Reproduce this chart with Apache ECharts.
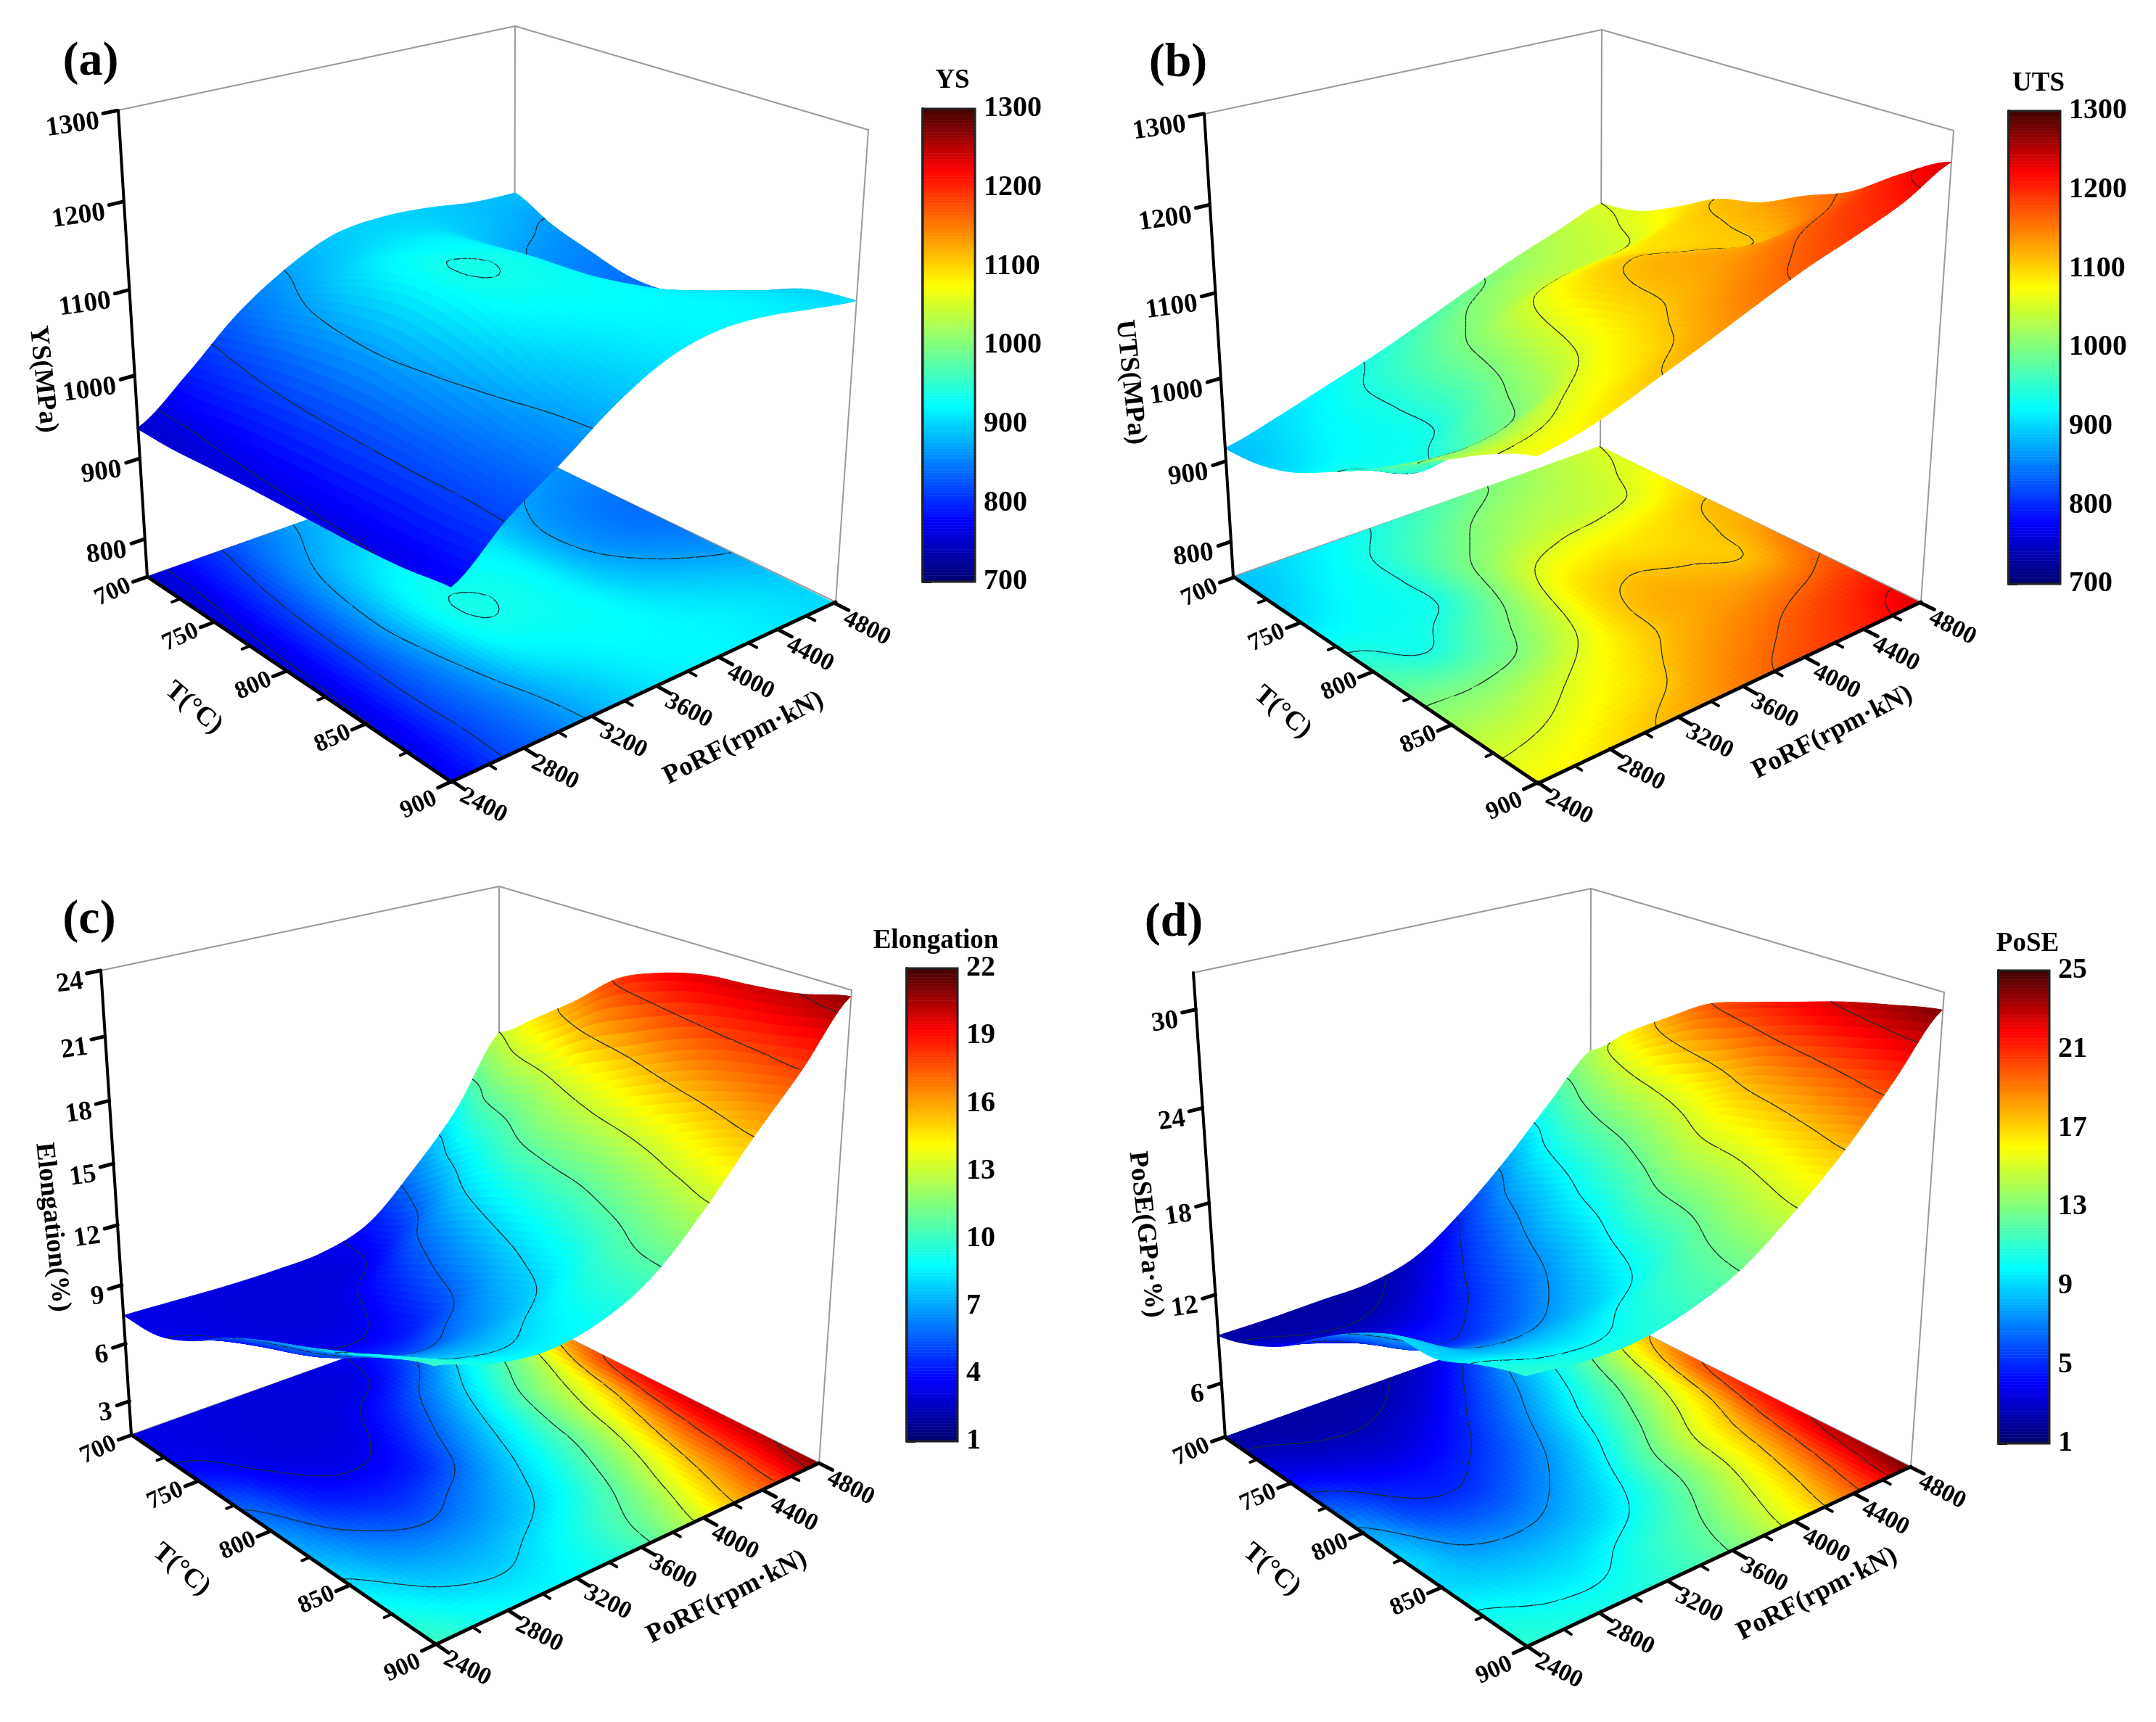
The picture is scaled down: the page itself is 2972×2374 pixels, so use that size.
<!DOCTYPE html>
<html>
<head>
<meta charset="utf-8">
<style>html,body{margin:0;background:#fff}#chart{width:2972px;height:2374px}</style>
<script src="https://cdn.jsdelivr.net/npm/echarts@6/dist/echarts.min.js"></script>
</head>
<body>
<div id="chart"></div>
<script>
// sampled grid, rows = T, columns = PoRF
const gridT = [700, 725, 750, 775, 800, 825, 850, 875, 900];
const gridP = [2400, 2700, 3000, 3300, 3600, 3900, 4200, 4500, 4800];

// values, in colour bar units
const ysValues = [
  [752, 792, 838, 871, 893, 898, 895, 888, 886],
  [752, 798, 850, 884, 902, 903, 893, 880, 866],
  [755, 805, 862, 905, 915, 910, 882, 862, 853],
  [758, 810, 870, 922, 925, 915, 873, 852, 842],
  [760, 813, 874, 930, 934, 920, 876, 852, 843],
  [762, 815, 868, 926, 932, 922, 890, 868, 856],
  [764, 816, 860, 910, 925, 925, 908, 892, 878],
  [768, 815, 853, 892, 916, 922, 918, 908, 897],
  [775, 817, 850, 885, 910, 920, 918, 910, 903]
];
const utsValues = [
  [888, 905, 925, 945, 968, 992, 1015, 1035, 1055],
  [893, 915, 937, 965, 995, 1018, 1030, 1045, 1062],
  [908, 925, 938, 985, 1018, 1038, 1045, 1057, 1085],
  [933, 930, 940, 998, 1055, 1075, 1082, 1095, 1112],
  [960, 938, 975, 1018, 1085, 1105, 1100, 1105, 1125],
  [990, 985, 1000, 1045, 1100, 1122, 1118, 1112, 1150],
  [1020, 1025, 1048, 1078, 1108, 1130, 1140, 1152, 1172],
  [1050, 1058, 1078, 1100, 1130, 1150, 1170, 1190, 1208],
  [1072, 1084, 1105, 1127, 1150, 1172, 1190, 1210, 1238]
];
const elongationValues = [
  [3.3, 3.2, 3.1, 3.1, 3.25, 4.1, 6.4, 9.2, 13.0],
  [3.35, 3.15, 3.0, 3.05, 3.3, 5.0, 8.0, 11.3, 14.6],
  [4.2, 3.3, 3.05, 3.25, 4.6, 6.9, 9.5, 12.3, 16.3],
  [5.5, 3.9, 3.3, 3.8, 5.7, 8.1, 10.9, 13.6, 18.2],
  [6.5, 4.7, 4.1, 4.6, 6.7, 9.0, 11.7, 14.7, 19.2],
  [7.3, 5.9, 5.2, 6.2, 7.7, 9.7, 12.3, 15.9, 19.8],
  [8.2, 7.0, 6.7, 7.3, 8.6, 10.6, 13.3, 16.9, 20.0],
  [9.2, 8.1, 7.8, 8.6, 9.9, 11.6, 14.5, 17.5, 20.3],
  [10.0, 9.1, 8.7, 9.1, 10.3, 12.6, 15.4, 18.0, 20.9]
];
const poseValues = [
  [2.1, 2.1, 2.2, 2.3, 3.1, 5.2, 7.9, 11.0, 14.0],
  [2.9, 2.45, 2.4, 2.9, 4.5, 6.9, 9.7, 12.8, 16.2],
  [4.2, 3.4, 3.2, 4.1, 5.9, 8.2, 11.0, 14.3, 18.1],
  [6.1, 4.6, 4.3, 5.2, 7.1, 9.6, 12.1, 15.4, 19.9],
  [7.8, 5.6, 5.2, 6.4, 8.2, 10.7, 13.5, 16.6, 20.9],
  [9.0, 7.1, 6.7, 7.7, 9.5, 12.2, 15.0, 18.0, 21.8],
  [9.1, 8.4, 8.3, 9.0, 10.6, 12.9, 15.6, 18.9, 22.7],
  [10.2, 9.6, 9.6, 10.7, 12.0, 14.0, 16.5, 19.8, 23.4],
  [11.0, 10.6, 10.6, 11.3, 12.6, 14.8, 17.4, 20.6, 24.0]
];

const ysLevels = [765, 815, 870, 935];
const utsLevels = [940, 1000, 1055, 1110, 1165, 1220];
const elongationLevels = [3.5, 5.7, 8, 10.7, 13, 15.5, 18, 20.3];
const poseLevels = [2.5, 5, 7.5, 10, 12.5, 15, 17.5, 20, 22.5];

const tempTicks = [700, 750, 800, 850, 900];
const tempMinor = [725, 775, 825, 875];
const porfTicks = [2400, 2800, 3200, 3600, 4000, 4400, 4800];
const porfMinor = [2600, 3000, 3400, 3800, 4200, 4600];

const ysHeightTicks = [800, 900, 1000, 1100, 1200, 1300];
const elongationHeightTicks = [3, 6, 9, 12, 15, 18, 21, 24];
const poseHeightTicks = [6, 12, 18, 24, 30];

const ysBarTicks = [700, 800, 900, 1000, 1100, 1200, 1300];
const elongationBarTicks = [1, 4, 7, 10, 13, 16, 19, 22];
const poseBarTicks = [1, 5, 9, 13, 17, 21, 25];

const SERIF = '"Liberation Serif", "Times New Roman", serif';
const SUB = 8;

// corners of each box on the page, the projection is fitted to them
const panels = [
  {
    letter: '(a)', letterAt: [120, 81], values: ysValues, levels: ysLevels, heightTicks: ysHeightTicks,
    zRange: [752, 1300], heightBase: 62.3, heightScale: 1.163,
    barRange: [700, 1300], barTicks: ysBarTicks, barName: 'YS', barNameAt: [1308, 106], barBox: [1272, 150, 72, 652],
    zTitle: 'YS(MPa)', zTitleAt: [59, 523], tTitleAt: [267, 976], pTitleAt: [1025, 1018],
    L0: [203, 795], B0: [622, 1078], R0: [1152, 830], K0: [709, 617],
    L1: [163, 152], K1: [710, 36], R1: [1197, 179], tick: [1000, 182, 518]
  },
  {
    letter: '(b)', letterAt: [1619, 83], values: utsValues, levels: utsLevels, heightTicks: ysHeightTicks,
    zRange: [754, 1300], heightBase: 28, heightScale: 1,
    barRange: [700, 1300], barTicks: ysBarTicks, barName: 'UTS', barNameAt: [2805, 110], barBox: [2769, 153, 71, 652],
    zTitle: 'UTS(MPa)', zTitleAt: [1558, 527], tTitleAt: [1768, 982], pTitleAt: [2526, 1010],
    L0: [1700, 795], B0: [2120, 1080], R0: [2648, 830], K0: [2206, 617],
    L1: [1660, 157], K1: [2208, 41], R1: [2693, 180], tick: [1000, 1681, 522]
  },
  {
    letter: '(c)', letterAt: [118, 1264], values: elongationValues, levels: elongationLevels, heightTicks: elongationHeightTicks,
    zRange: [1.2, 24], heightBase: 4.4, heightScale: 0.924,
    barRange: [1, 22], barTicks: elongationBarTicks, barName: 'Elongation', barNameAt: [1285, 1292], barBox: [1250, 1335, 70, 652],
    zTitle: 'Elongation(%)', zTitleAt: [72, 1692], tTitleAt: [250, 2164], pTitleAt: [1002, 2202],
    L0: [181, 1978], B0: [601, 2267], R0: [1129, 2017], K0: [688, 1797],
    L1: [139, 1338], K1: [688, 1222], R1: [1174, 1365], tick: [15, 157, 1604]
  },
  {
    letter: '(d)', letterAt: [1613, 1268], values: poseValues, levels: poseLevels, heightTicks: poseHeightTicks,
    zRange: [2.25, 32.2], heightBase: 7.15, heightScale: 1,
    barRange: [1, 25], barTicks: poseBarTicks, barName: 'PoSE', barNameAt: [2790, 1296], barBox: [2755, 1338, 70, 652],
    zTitle: 'PoSE(GPa·%)', zTitleAt: [1579, 1702], tTitleAt: [1753, 2164], pTitleAt: [2505, 2198],
    L0: [1689, 1982], B0: [2105, 2270], R0: [2634, 2022], K0: [2192, 1801],
    L1: [1645, 1341], K1: [2193, 1225], R1: [2680, 1368], tick: [18, 1667, 1657]
  }
];

// jet like map of the colour bars
const colorStops = [
  [0, [0, 0, 110]], [0.13, [0, 0, 255]], [0.373, [0, 255, 255]], [0.5, [127, 255, 127]],
  [0.627, [255, 255, 0]], [0.87, [255, 0, 0]], [1, [64, 0, 0]]
];
function jet(f) {
  f = Math.max(0, Math.min(1, f));
  for (let i = 1; i < colorStops.length; i++) {
    if (f <= colorStops[i][0]) {
      const a = colorStops[i - 1], b = colorStops[i];
      const t = (f - a[0]) / (b[0] - a[0]);
      const c = a[1].map((v, k) => Math.round(v + (b[1][k] - v) * t));
      return 'rgb(' + c.join(',') + ')';
    }
  }
  return 'rgb(64,0,0)';
}

// least squares fit of a camera: page = (a.q) / (c.q + 1), q = [u, v, w, 1]
function solve(A, b) {
  const n = b.length;
  for (let i = 0; i < n; i++) {
    let p = i;
    for (let r = i + 1; r < n; r++) if (Math.abs(A[r][i]) > Math.abs(A[p][i])) p = r;
    [A[i], A[p]] = [A[p], A[i]];
    [b[i], b[p]] = [b[p], b[i]];
    for (let r = i + 1; r < n; r++) {
      const m = A[r][i] / A[i][i];
      for (let c = i; c < n; c++) A[r][c] -= m * A[i][c];
      b[r] -= m * b[i];
    }
  }
  const x = new Array(n).fill(0);
  for (let i = n - 1; i >= 0; i--) {
    let s = b[i];
    for (let c = i + 1; c < n; c++) s -= A[i][c] * x[c];
    x[i] = s / A[i][i];
  }
  return x;
}
function fitCamera(p) {
  const wTick = (p.tick[0] - p.zRange[0]) / (p.zRange[1] - p.zRange[0]);
  const pts = [
    [0, 0, 0, p.L0], [1, 0, 0, p.B0], [1, 1, 0, p.R0], [0, 1, 0, p.K0],
    [0, 0, 1, p.L1], [0, 1, 1, p.K1], [1, 1, 1, p.R1], [0, 0, wTick, [p.tick[1], p.tick[2]]]
  ];
  const rows = [], rhs = [];
  pts.forEach(([u, v, w, xy]) => {
    const X = xy[0] / 1000, Y = xy[1] / 1000;
    rows.push([u, v, w, 1, 0, 0, 0, 0, -X * u, -X * v, -X * w]); rhs.push(X);
    rows.push([0, 0, 0, 0, u, v, w, 1, -Y * u, -Y * v, -Y * w]); rhs.push(Y);
  });
  const N = [], y = [];
  for (let i = 0; i < 11; i++) {
    N.push([]);
    let s = 0;
    for (let j = 0; j < 11; j++) {
      let t = 0;
      rows.forEach(r => { t += r[i] * r[j]; });
      N[i].push(t);
    }
    rows.forEach((r, k) => { s += r[i] * rhs[k]; });
    y.push(s);
  }
  const m = solve(N, y);
  return (u, v, w) => {
    const d = m[8] * u + m[9] * v + m[10] * w + 1;
    return [
      1000 * (m[0] * u + m[1] * v + m[2] * w + m[3]) / d,
      1000 * (m[4] * u + m[5] * v + m[6] * w + m[7]) / d
    ];
  };
}

// smooth drawing of the sampled rows between neighbours
function cubic(a, b, c, d, t) {
  return b + 0.5 * t * (c - a + t * (2 * a - 5 * b + 4 * c - d + t * (3 * (b - c) + d - a)));
}
function fieldAt(values, fu, fv) {
  const nu = values.length - 1, nv = values[0].length - 1;
  const x = Math.min(fu * nu, nu), y = Math.min(fv * nv, nv);
  const i = Math.min(Math.floor(x), nu - 1), j = Math.min(Math.floor(y), nv - 1);
  const at = (r, c) => values[Math.max(0, Math.min(nu, r))][Math.max(0, Math.min(nv, c))];
  const col = [];
  for (let r = i - 1; r <= i + 2; r++) {
    col.push(cubic(at(r, j - 1), at(r, j), at(r, j + 1), at(r, j + 2), y - j));
  }
  return cubic(col[0], col[1], col[2], col[3], x - i);
}

function crossings(levels, c, iu, iv, n) {
  // c = corner values 00, 10, 11, 01 of one small cell
  const corner = [[0, 0], [1, 0], [1, 1], [0, 1]];
  const out = [];
  levels.forEach(level => {
    const hit = [];
    for (let e = 0; e < 4; e++) {
      const a = c[e], b = c[(e + 1) % 4];
      if ((a < level) !== (b < level)) {
        const t = (level - a) / (b - a);
        const p = corner[e], q = corner[(e + 1) % 4];
        hit.push([(iu + p[0] + (q[0] - p[0]) * t) / n, (iv + p[1] + (q[1] - p[1]) * t) / n]);
      }
    }
    if (hit.length >= 2) out.push([hit[0], hit[1], level]);
    if (hit.length === 4) out.push([hit[2], hit[3], level]);
  });
  return out;
}

function textEl(api, pos, text, opt) {
  const c = api.coord(pos);
  return {
    type: 'text', x: c[0], y: c[1], rotation: (opt.rotate || 0) * Math.PI / 180,
    style: {
      text: text, fill: '#000', align: opt.align || 'center', verticalAlign: 'middle',
      font: 'bold ' + opt.size + 'px ' + SERIF
    }
  };
}
function lineEl(api, a, b, color, width) {
  const p = api.coord(a), q = api.coord(b);
  return {
    type: 'line', shape: { x1: p[0], y1: p[1], x2: q[0], y2: q[1] },
    style: { stroke: color, lineWidth: width, lineCap: 'round' }
  };
}

const series = [], titles = [], grids = [{ left: 0, top: 0, width: 2972, height: 2374 }];
const xAxes = [{ type: 'value', min: 0, max: 2972, show: false, gridIndex: 0 }];
const yAxes = [{ type: 'value', min: 0, max: 2374, inverse: true, show: false, gridIndex: 0 }];

panels.forEach(p => {
  const project = fitCamera(p);
  const n = (gridT.length - 1) * SUB;
  const toW = c => ((p.heightBase + p.heightScale * c) - p.zRange[0]) / (p.zRange[1] - p.zRange[0]);
  const colorOf = c => jet((c - p.barRange[0]) / (p.barRange[1] - p.barRange[0]));

  const cells = [];
  for (let i = 0; i < n; i++) {
    for (let j = n - 1; j >= 0; j--) {
      const c = [
        fieldAt(p.values, i / n, j / n), fieldAt(p.values, (i + 1) / n, j / n),
        fieldAt(p.values, (i + 1) / n, (j + 1) / n), fieldAt(p.values, i / n, (j + 1) / n)
      ];
      cells.push({ i, j, c, mean: (c[0] + c[1] + c[2] + c[3]) / 4, lines: crossings(p.levels, c, i, j, n) });
    }
  }
  const cellIds = cells.map((_, k) => [k, 0]);

  const drawCell = (params, api, lifted) => {
    const q = cells[params.dataIndex];
    const w = k => (lifted ? toW(q.c[k]) : 0);
    const pts = [
      api.coord(project(q.i / n, q.j / n, w(0))),
      api.coord(project((q.i + 1) / n, q.j / n, w(1))),
      api.coord(project((q.i + 1) / n, (q.j + 1) / n, w(2))),
      api.coord(project(q.i / n, (q.j + 1) / n, w(3)))
    ];
    const color = colorOf(q.mean);
    const children = [{ type: 'polygon', shape: { points: pts }, style: { fill: color, stroke: color, lineWidth: 1 } }];
    q.lines.forEach(l => {
      const h = lifted ? toW(l[2]) : 0;
      children.push(lineEl(api, project(l[0][0], l[0][1], h), project(l[1][0], l[1][1], h), '#1d2b2b', 1.3));
    });
    return { type: 'group', children };
  };

  const tU = t => (t - tempTicks[0]) / (tempTicks[tempTicks.length - 1] - tempTicks[0]);
  const pV = v => (v - porfTicks[0]) / (porfTicks[porfTicks.length - 1] - porfTicks[0]);
  const zW = z => (z - p.zRange[0]) / (p.zRange[1] - p.zRange[0]);

  // grey back edges of the box
  series.push({
    type: 'custom', coordinateSystem: 'cartesian2d', data: [[0, 0]], silent: true, clip: false, animation: false,
    renderItem: (params, api) => {
      const grey = '#9a9a9a';
      const edges = [[p.L1, p.K1], [p.K1, p.R1], [p.K1, p.K0], [p.R1, p.R0], [p.L0, p.K0], [p.K0, p.R0]];
      return { type: 'group', children: edges.map(e => lineEl(api, e[0], e[1], grey, 2)) };
    }
  });
  // projection on the floor
  series.push({
    type: 'custom', coordinateSystem: 'cartesian2d', data: cellIds, silent: true, clip: false, animation: false,
    progressive: 0, renderItem: (params, api) => drawCell(params, api, false)
  });
  // the surface, far cells first so near ones cover them
  series.push({
    type: 'custom', coordinateSystem: 'cartesian2d', data: cellIds, silent: true, clip: false, animation: false,
    progressive: 0, renderItem: (params, api) => drawCell(params, api, true)
  });
  // axes, ticks and axis text
  series.push({
    type: 'custom', coordinateSystem: 'cartesian2d', data: [[0, 0]], silent: true, clip: false, animation: false,
    renderItem: (params, api) => {
      const ch = [];
      ch.push(lineEl(api, p.L0, p.L1, '#000', 4));
      ch.push(lineEl(api, p.L0, p.B0, '#000', 5));
      ch.push(lineEl(api, p.B0, p.R0, '#000', 5));
      tempTicks.forEach(t => {
        const a = project(tU(t), 0, 0);
        ch.push(lineEl(api, a, project(tU(t), -0.032, 0), '#000', 5));
        ch.push(textEl(api, [a[0] - 46, a[1] + (t === 900 ? 33 : 21)], String(t), { size: 34, rotate: 24 }));
      });
      tempMinor.forEach(t => ch.push(lineEl(api, project(tU(t), 0, 0), project(tU(t), -0.018, 0), '#000', 4)));
      porfTicks.forEach(v => {
        const a = project(1, pV(v), 0);
        ch.push(lineEl(api, a, project(1.035, pV(v), 0), '#000', 5));
        ch.push(textEl(api, [a[0] + 43, a[1] + 34], String(v), { size: 34, rotate: -27 }));
      });
      porfMinor.forEach(v => ch.push(lineEl(api, project(1, pV(v), 0), project(1.02, pV(v), 0), '#000', 4)));
      p.heightTicks.forEach(z => {
        const a = project(0, 0, zW(z));
        ch.push(lineEl(api, a, project(0, -0.03, zW(z)), '#000', 5));
        ch.push(textEl(api, [a[0] - 24, a[1] + 15], String(z), { size: 37, rotate: 8, align: 'right' }));
      });
      ch.push(textEl(api, p.zTitleAt, p.zTitle, { size: 37, rotate: -84 }));
      ch.push(textEl(api, p.tTitleAt, 'T(°C)', { size: 37, rotate: -40 }));
      ch.push(textEl(api, p.pTitleAt, 'PoRF(rpm·kN)', { size: 37, rotate: 27 }));
      return { type: 'group', children: ch };
    }
  });

  titles.push({
    text: p.letter, left: p.letterAt[0], top: p.letterAt[1], textAlign: 'center', textVerticalAlign: 'middle',
    textStyle: { fontFamily: SERIF, fontWeight: 'bold', fontSize: 66, color: '#000' }
  });
  titles.push({
    text: p.barName, left: p.barNameAt[0], top: p.barNameAt[1], textAlign: 'center', textVerticalAlign: 'middle',
    textStyle: { fontFamily: SERIF, fontWeight: 'bold', fontSize: 37, color: '#000' }
  });

  // colour bar with a real axis
  const gi = grids.length;
  grids.push({ left: p.barBox[0], top: p.barBox[1], width: p.barBox[2], height: p.barBox[3] });
  xAxes.push({ type: 'value', min: 0, max: 1, show: false, gridIndex: gi });
  yAxes.push({
    type: 'value', gridIndex: gi, position: 'right', min: p.barRange[0], max: p.barRange[1],
    axisLine: { show: true, lineStyle: { color: '#222', width: 4 } },
    axisTick: { show: true, length: 12, customValues: p.barTicks, lineStyle: { color: '#111', width: 3 } },
    axisLabel: {
      customValues: p.barTicks, margin: 12, color: '#000', formatter: v => String(v),
      fontFamily: SERIF, fontWeight: 'bold', fontSize: 40
    },
    splitLine: { show: false }
  });
  const steps = [];
  const [lo, hi] = p.barRange;
  for (let k = 0; k < 160; k++) steps.push([0, lo + (hi - lo) * k / 160, lo + (hi - lo) * (k + 1) / 160]);
  series.push({
    type: 'custom', coordinateSystem: 'cartesian2d', xAxisIndex: gi, yAxisIndex: gi, data: steps, silent: true,
    animation: false, clip: false, progressive: 0,
    encode: { x: 0, y: 1 },
    renderItem: (params, api) => {
      const a = api.coord([0, api.value(1)]), b = api.coord([1, api.value(2)]);
      const color = colorOf((api.value(1) + api.value(2)) / 2);
      return {
        type: 'rect', shape: { x: a[0], y: b[1], width: b[0] - a[0], height: a[1] - b[1] },
        style: { fill: color, stroke: color, lineWidth: 0.6 }
      };
    }
  });
  series.push({
    type: 'custom', coordinateSystem: 'cartesian2d', xAxisIndex: gi, yAxisIndex: gi, data: [[0, lo]], silent: true,
    animation: false, clip: false, z: 3,
    renderItem: (params, api) => {
      const a = api.coord([0, lo]), b = api.coord([1, hi]);
      return {
        type: 'rect', shape: { x: a[0], y: b[1], width: b[0] - a[0], height: a[1] - b[1] },
        style: { fill: 'none', stroke: '#222', lineWidth: 3 }
      };
    }
  });
});

const chart = echarts.init(document.getElementById('chart'), null, { renderer: 'canvas' });
chart.setOption({
  backgroundColor: '#fff',
  animation: false,
  title: titles,
  grid: grids,
  xAxis: xAxes,
  yAxis: yAxes,
  series: series
});
</script>
</body>
</html>
